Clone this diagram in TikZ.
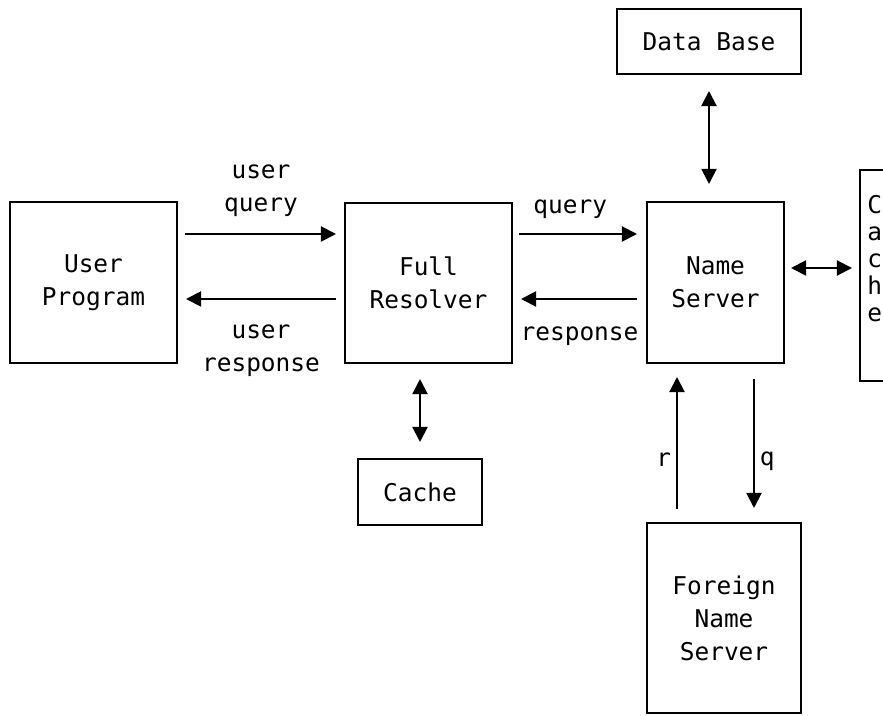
\documentclass[tikz,border=0pt]{standalone}
\usepackage{fontspec}
\setmonofont{DejaVu Sans Mono}
\usetikzlibrary{calc,arrows.meta,positioning}
\newcommand{\dnsfont}{\ttfamily\fontsize{17.4}{23.5}\selectfont}

\begin{document}
\begin{tikzpicture} [x=0.025cm,y=0.025cm,>={Triangle[length=0.38cm,width=0.38cm]},{box/.style={rectangle,draw=black,line width=1.4pt,inner sep=0pt,align=center,font=\dnsfont}},{link/.style={line width=1.4pt}},{lbl/.style={inner sep=0pt,align=center,font=\dnsfont}}]
	%%frame of the page
	\useasboundingbox (0,0) rectangle (883,716);
	\clip (0,0) rectangle (883,716);
	%%boxes
	\node [box,minimum width=4.175cm,minimum height=4.025cm] (user) at (93.5,433.5) {User\\Program};
	\node [box,minimum width=4.175cm,minimum height=4.0cm] (resolver) at (428.5,433) {Full\\Resolver};
	\node [box,minimum width=3.425cm,minimum height=4.025cm] (server) at (715.5,433.5) {Name\\Server};
	\node [box,minimum width=4.6cm,minimum height=1.625cm] (database) at (709,674.5) {Data Base};
	\node [box,minimum width=3.1cm,minimum height=1.65cm] (cache) at (420,224) {Cache};
	\node [box,minimum width=3.85cm,minimum height=4.75cm] (foreign) at (724,98) {Foreign\\Name\\Server};
	\node [box,minimum width=1.25cm,minimum height=5.275cm] (sidecache) at (885,440.5) {};
	\node [lbl,anchor=north west,align=left,font=\ttfamily\fontsize{17.4}{19.2}\selectfont] (sidetext) at ($(sidecache.north west)+(8,-26)$) {C\\a\\c\\h\\e};
	
	%%query and response arrows
	\draw [link,->,shorten <=0.175cm,shorten >=0.2cm] ($(user.east)+(0,48.5)$) -- ($(resolver.west)+(0,49)$) node [lbl,midway,above=0.41cm] {user\\query};
	\draw [link,->,shorten <=0.2cm,shorten >=0.2cm] ($(resolver.west)+(0,-16)$) -- ($(user.east)+(0,-16.5)$) node [lbl,midway,below=0.63cm] {user\\response};
	\draw [link,->,shorten <=0.15cm,shorten >=0.225cm] ($(resolver.east)+(0,49)$) -- ($(server.west)+(0,48.5)$) node [lbl,pos=0.43,above=0.36cm] {query};
	\draw [link,->,shorten <=0.225cm,shorten >=0.2cm] ($(server.west)+(0,-16.5)$) -- ($(resolver.east)+(0,-16)$) node [lbl,midway,below=0.68cm] {response};
	
	%%storage arrows
	\draw [link,<->,shorten <=0.4cm,shorten >=0.425cm] (database.south) -- (database.south |- server.north);
	\draw [link,<->,shorten <=0.375cm,shorten >=0.4cm] (cache.north |- resolver.south) -- (cache.north);
	\draw [link,<->,shorten <=0.15cm,shorten >=0.175cm] ($(server.east)+(0,14.5)$) -- ($(sidecache.west)+(0,7.5)$);
	
	%%foreign server arrows
	\draw [link,->,shorten <=0.325cm,shorten >=0.375cm] ($(foreign.north)+(-47,0)$) -- ($(foreign.north)+(-47,160)$) node [lbl,pos=0.39,left=0.12cm] {r};
	\draw [link,->,shorten <=0.375cm,shorten >=0.4cm] ($(server.south)+(38.5,0)$) -- ($(server.south)+(38.5,-160)$) node [lbl,pos=0.61,right=0.12cm] {q};
	
	\end{tikzpicture}
\end{document}
